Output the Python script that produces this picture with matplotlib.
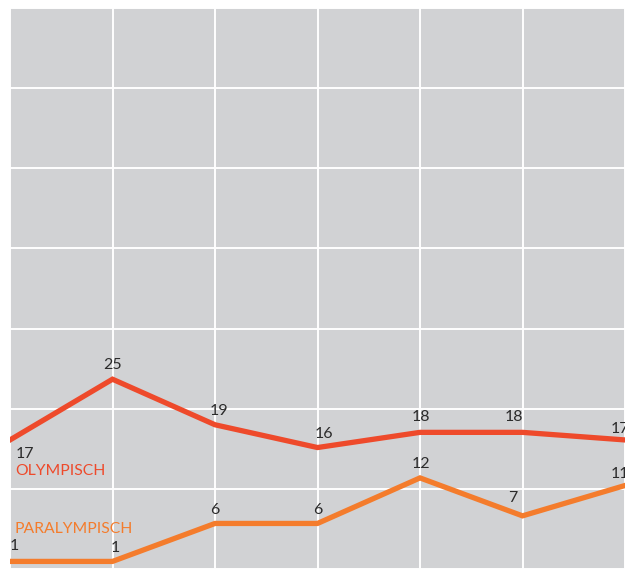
import numpy as np
import matplotlib.pyplot as plt

plt.rcParams['font.family'] = ['Lato', 'DejaVu Sans']

# medals per games (left to right)
olympisch = [17, 25, 19, 16, 18, 18, 17]
paralympisch = [1, 1, 6, 6, 12, 7, 11]
labels = ["OLYMPISCH", "PARALYMPISCH"]

red = "#ee4a2b"
orange = "#f47c2c"
bg = "#d1d2d4"

# label offsets in points (dx, dy) for each value label
off_olymp = [(4, -10), (0, 10), (3, 10), (5, 10), (1, 11), (-6, 11), (-4, 8)]
off_para = [(0, 11), (2, 10), (0, 10), (0, 10), (1, 10), (-7, 13), (-4, 8)]

W, H = 625, 569
fig = plt.figure(figsize=(W / 100, H / 100), dpi=100)
ax = fig.add_axes([10 / W, 0, 1 - 10 / W, (H - 8) / H])
ax.set_facecolor(bg)

x = np.arange(len(olympisch))
ytop = 73.9
ax.set_xlim(0, 615 / 104)
ax.set_ylim(0, ytop)
ax.set_xticks(x)
ax.set_yticks(np.linspace(0, ytop, 8))
ax.grid(True, color="white", lw=1.4)
ax.set_axisbelow(True)
ax.tick_params(length=0, labelbottom=False, labelleft=False)
for s in ax.spines.values():
    s.set_visible(False)

ax.plot(x, olympisch, color=red, lw=3.8, solid_joinstyle="miter")
ax.plot(x, paralympisch, color=orange, lw=3.8, solid_joinstyle="miter")

for xi, v, (dx, dy) in zip(x, olympisch, off_olymp):
    ha = "left" if xi == 0 else "center"
    ax.annotate(str(v), (xi, v), xytext=(dx, dy), textcoords="offset points",
                ha=ha, va="center", fontsize=11.5, color="#2b2b2b",
                annotation_clip=False)
for xi, v, (dx, dy) in zip(x, paralympisch, off_para):
    ha = "left" if xi == 0 else "center"
    ax.annotate(str(v), (xi, v), xytext=(dx, dy), textcoords="offset points",
                ha=ha, va="center", fontsize=11.5, color="#2b2b2b",
                annotation_clip=False)

ax.annotate(labels[0], (0, olympisch[0]), xytext=(4, -22), textcoords="offset points",
            ha="left", va="center", fontsize=11.3, color=red)
ax.annotate(labels[1], (0, paralympisch[0]), xytext=(3, 23), textcoords="offset points",
            ha="left", va="center", fontsize=11.3, color=orange)

fig.savefig("out.png", dpi=100, facecolor="white")
